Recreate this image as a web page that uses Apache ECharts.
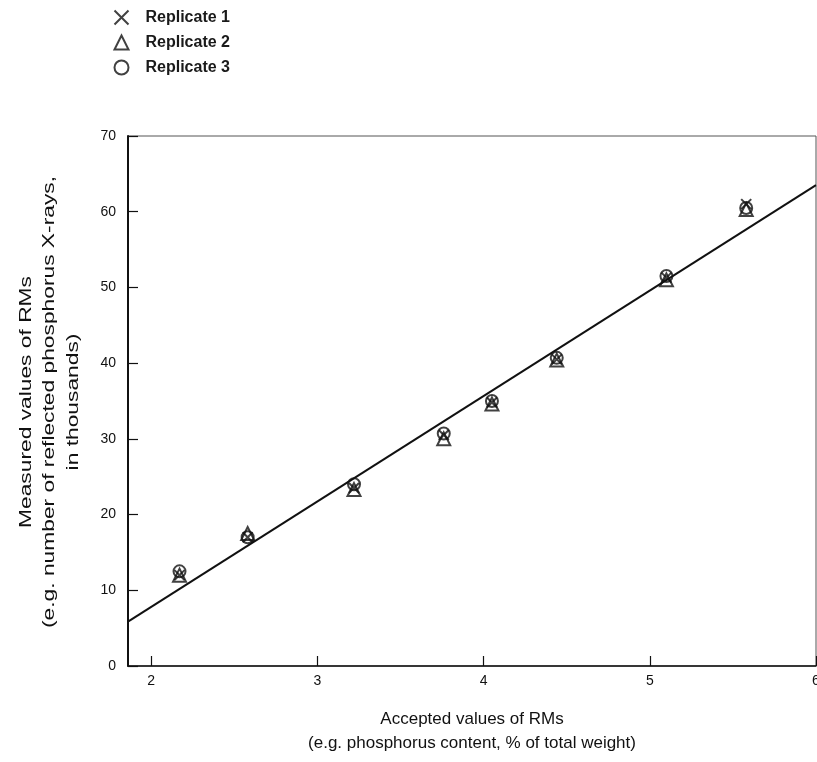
<!DOCTYPE html>
<html>
<head>
<meta charset="utf-8">
<title>Measured vs accepted values of RMs</title>
<script src="https://cdn.jsdelivr.net/npm/echarts@6/dist/echarts.min.js"></script>
<style>
  html, body { margin: 0; padding: 0; background: #fff; }
  #chart { width: 817px; height: 762px; }
</style>
</head>
<body>
<div id="chart"></div>
<script>
// Accepted values of the reference materials (% phosphorus)
const accepted = [2.17, 2.58, 3.22, 3.76, 4.05, 4.44, 5.10, 5.58];
// Measured counts (thousands) for each replicate
const replicate1 = [12.0, 17.0, 23.5, 30.5, 34.8, 40.5, 51.3, 61.0];
const replicate2 = [12.0, 17.5, 23.3, 30.0, 34.6, 40.4, 51.0, 60.3];
const replicate3 = [12.5, 17.0, 24.0, 30.7, 35.0, 40.7, 51.5, 60.5];
// Calibration line end points [accepted, measured]
const fitLine = [[1.86, 5.85], [6.0, 63.5]];
// Axis ticks
const xTicks = [2, 3, 4, 5, 6];
const seriesNames = ['Replicate 1', 'Replicate 2', 'Replicate 3'];
const yTitleLines = [
  'Measured values of RMs',
  '(e.g. number of reflected phosphorus X-rays,',
  'in thousands)'
];

const pair = ys => accepted.map((x, i) => [x, ys[i]]);
const crossPath = 'path://M0,0L10,10M10,0L0,10';
const font = 'Liberation Sans, Arial, sans-serif';

// Vertical axis title: three rotated lines, drawn a little stretched along their length
const yTitle = yTitleLines.map((line, i) => ({
  type: 'text',
  x: 26 + i * 23.5,
  y: 402,
  rotation: Math.PI / 2,
  scaleX: 1.34,
  style: {
    text: line,
    fontFamily: font,
    fontSize: 17,
    fill: '#111',
    align: 'center',
    verticalAlign: 'middle'
  }
}));

const chart = echarts.init(document.getElementById('chart'));
chart.setOption({
  animation: false,
  backgroundColor: '#fff',
  legend: {
    orient: 'vertical',
    left: 107,
    top: 3,
    itemWidth: 14,
    itemHeight: 14,
    itemGap: 6,
    data: seriesNames,
    textStyle: { fontFamily: font, fontSize: 16, fontWeight: 'bold', color: '#1a1a1a', padding: [0, 0, 0, 12] }
  },
  grid: {
    left: 128, right: 1, top: 136, bottom: 96,
    outerBoundsMode: 'none',
    show: true, borderColor: '#555', borderWidth: 1, backgroundColor: 'transparent'
  },
  graphic: yTitle,
  xAxis: {
    type: 'value',
    min: 1.86,
    max: 6,
    name: 'Accepted values of RMs\n(e.g. phosphorus content, % of total weight)',
    nameLocation: 'middle',
    nameGap: 41,
    nameTextStyle: { fontFamily: font, fontSize: 17, color: '#111', lineHeight: 24 },
    axisLine: { lineStyle: { color: '#111', width: 1.5 } },
    axisTick: { inside: true, length: 10, customValues: xTicks, lineStyle: { color: '#111', width: 1.2 } },
    axisLabel: { customValues: xTicks, margin: 8, fontFamily: font, fontSize: 14, color: '#111' },
    splitLine: { show: false }
  },
  yAxis: {
    type: 'value',
    min: 0,
    max: 70,
    interval: 10,
    axisLine: { lineStyle: { color: '#111', width: 2 } },
    axisTick: { inside: true, length: 10, lineStyle: { color: '#111', width: 1.2 } },
    axisLabel: { margin: 12, fontFamily: font, fontSize: 14, color: '#111' },
    splitLine: { show: false }
  },
  series: [
    {
      name: 'Calibration',
      type: 'line',
      data: fitLine,
      symbol: 'none',
      lineStyle: { color: '#111', width: 2 },
      z: 1
    },
    {
      name: seriesNames[0],
      type: 'scatter',
      data: pair(replicate1),
      symbol: crossPath,
      symbolSize: 10,
      itemStyle: { color: 'none', borderColor: '#111', borderWidth: 2 },
      z: 4
    },
    {
      name: seriesNames[1],
      type: 'scatter',
      data: pair(replicate2),
      symbol: 'triangle',
      symbolSize: 13,
      itemStyle: { color: 'none', borderColor: '#111', borderWidth: 2 },
      z: 3
    },
    {
      name: seriesNames[2],
      type: 'scatter',
      data: pair(replicate3),
      symbol: 'circle',
      symbolSize: 12,
      itemStyle: { color: 'none', borderColor: '#111', borderWidth: 2 },
      z: 3
    }
  ]
});
</script>
</body>
</html>
